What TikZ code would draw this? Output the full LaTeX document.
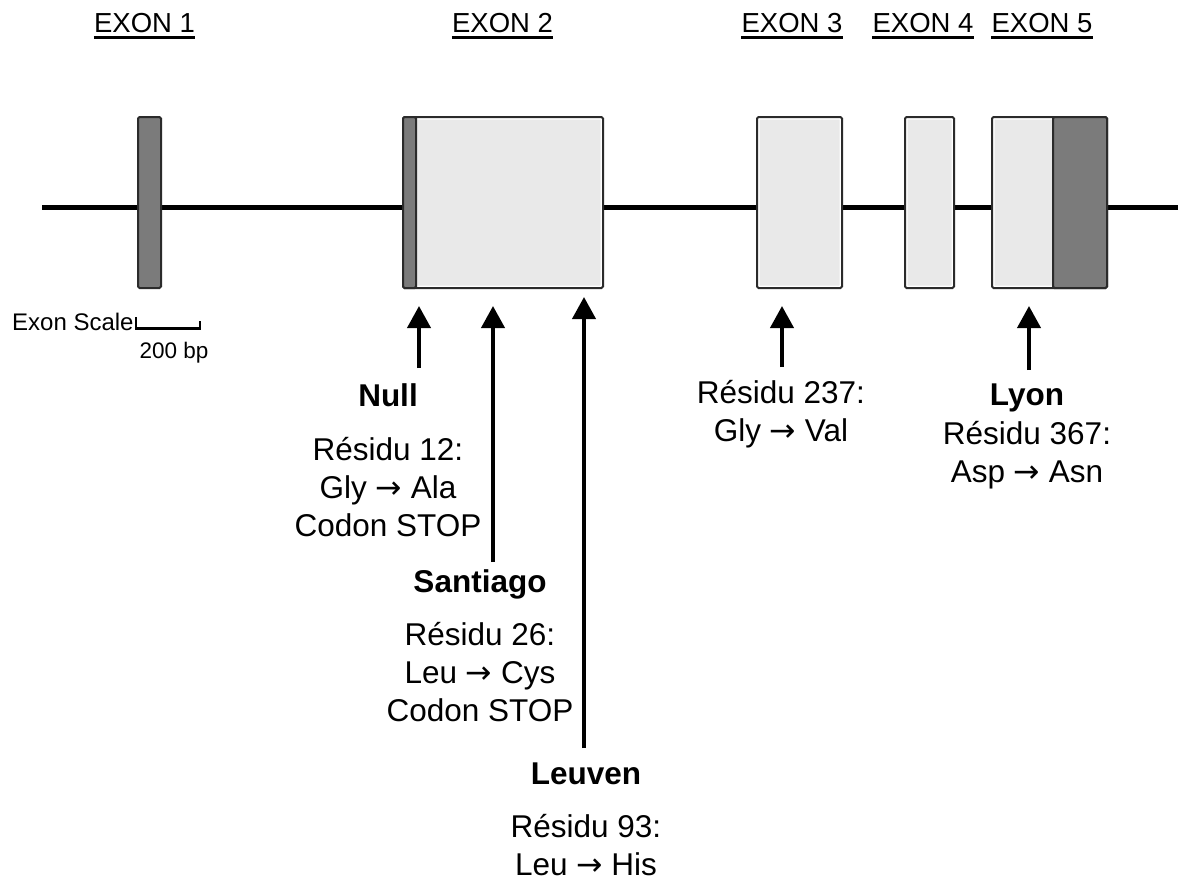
\documentclass[tikz,border=0pt]{standalone}
\usepackage{fontspec}
\setmainfont{Liberation Sans}
\newfontfamily\arrowfont{DejaVu Sans}
\newcommand{\resto}{{\arrowfont →}}
\usetikzlibrary{arrows.meta, positioning}
\definecolor{exonlight}{HTML}{E9E9E9}
\definecolor{exondark}{HTML}{7B7B7B}
\definecolor{exonedge}{HTML}{2B2B2B}

\begin{document}
\begin{tikzpicture}[
    x=1pt, y=-1pt,
    exon/.style={draw=exonedge, line width=2pt, rounded corners=1.5pt, minimum height=171pt,
                 inner sep=0pt, fill=exonlight,
                 path picture={\draw[white, line width=5pt] (path picture bounding box.south west)
                               rectangle (path picture bounding box.north east);}},
    coding/.style={draw=exonedge, line width=2pt, rounded corners=1.5pt, minimum height=171pt,
                   inner sep=0pt, fill=exondark},
    head/.style={font=\fontsize{27.5}{30}\selectfont, inner xsep=0pt, inner ysep=5pt, anchor=base},
    uline/.style={line width=2.5pt},
    title/.style={font=\bfseries\fontsize{31.5}{36}\selectfont, inner sep=0pt, anchor=base},
    desc/.style={font=\fontsize{31.5}{38}\selectfont, align=center, inner sep=0pt, anchor=base},
    mut/.style={-{Triangle[length=22pt, width=23pt]}, line width=4pt},
]
\useasboundingbox (0,0) rectangle (1178,881);

% exon headings
\node[head] (lbl1) at (144.5,32) {EXON 1};
\node[head] (lbl2) at (502.5,32) {EXON 2};
\node[head] (lbl3) at (792,32)   {EXON 3};
\node[head] (lbl4) at (923,32)   {EXON 4};
\node[head] (lbl5) at (1042,32)  {EXON 5};
\draw[uline] (lbl1.south west) -- (lbl1.south east);
\draw[uline] (lbl2.south west) -- (lbl2.south east);
\draw[uline] (lbl3.south west) -- (lbl3.south east);
\draw[uline] (lbl4.south west) -- (lbl4.south east);
\draw[uline] (lbl5.south west) -- (lbl5.south east);

% gene backbone
\coordinate (gstart) at (42,207);
\coordinate (gend)   at (1178,207);
\draw[line width=5pt] (gstart) -- (gend);

% exons
\node[coding, minimum width=23pt]  (ex1) at (149.5,202.5) {};
\node[exon,   minimum width=200pt] (ex2) at (503,202.5)   {};
\node[coding, minimum width=13pt, anchor=west] (ex2cds) at (ex2.west) {};
\node[exon,   minimum width=85pt]  (ex3) at (799.5,202.5) {};
\node[exon,   minimum width=49pt]  (ex4) at (929.5,202.5) {};
\node[exon,   minimum width=115pt] (ex5) at (1049.5,202.5) {};
\node[coding, minimum width=54pt, anchor=east] (ex5cds) at (ex5.east) {};

% scale
\node[font=\fontsize{24}{28}\selectfont, inner sep=0pt, anchor=base west] (scale) at (12,330) {Exon Scale};
\draw[line width=2.5pt] (136,317) -- (136,328.5) -- (200,328.5) -- (200,321);
\node[font=\fontsize{22.5}{28}\selectfont, inner sep=0pt, anchor=base] (bp) at (174,358) {200 bp};

% mutations
\coordinate (nullfoot) at (419,368);
\coordinate (santfoot) at (493,562);
\coordinate (leuvfoot) at (584,748);
\coordinate (ex3foot)  at (782,367);
\coordinate (lyonfoot) at (1029,370);

\draw[mut, shorten >=17pt] (nullfoot) -- (nullfoot |- ex2.south);
\draw[mut, shorten >=17pt] (santfoot) -- (santfoot |- ex2.south);
\draw[mut, shorten >=8pt]  (leuvfoot) -- (leuvfoot |- ex2.south);
\draw[mut, shorten >=17pt] (ex3foot)  -- (ex3foot |- ex3.south);
\draw[mut, shorten >=17pt] (lyonfoot) -- (lyonfoot |- ex5.south);

% base of a desc node is its last line
\node[title] (null) at (388,406) {Null};
\node[desc, below=130pt of null.base, anchor=base] (nulltxt) {Résidu 12:\\Gly \resto{} Ala\\Codon STOP};

\node[title] (sant) at (480,592) {Santiago};
\node[desc, below=129pt of sant.base, anchor=base] (santtxt) {Résidu 26:\\Leu \resto{} Cys\\Codon STOP};

\node[title] (leuv) at (586,784) {Leuven};
\node[desc, below=91pt of leuv.base, anchor=base] (leuvtxt) {Résidu 93:\\Leu \resto{} His};

\node[desc] (ex3txt) at (781,441) {Résidu 237:\\Gly \resto{} Val};

\node[title] (lyon) at (1027,405) {Lyon};
\node[desc, below=77pt of lyon.base, anchor=base] (lyontxt) {Résidu 367:\\Asp \resto{} Asn};
\end{tikzpicture}
\end{document}
